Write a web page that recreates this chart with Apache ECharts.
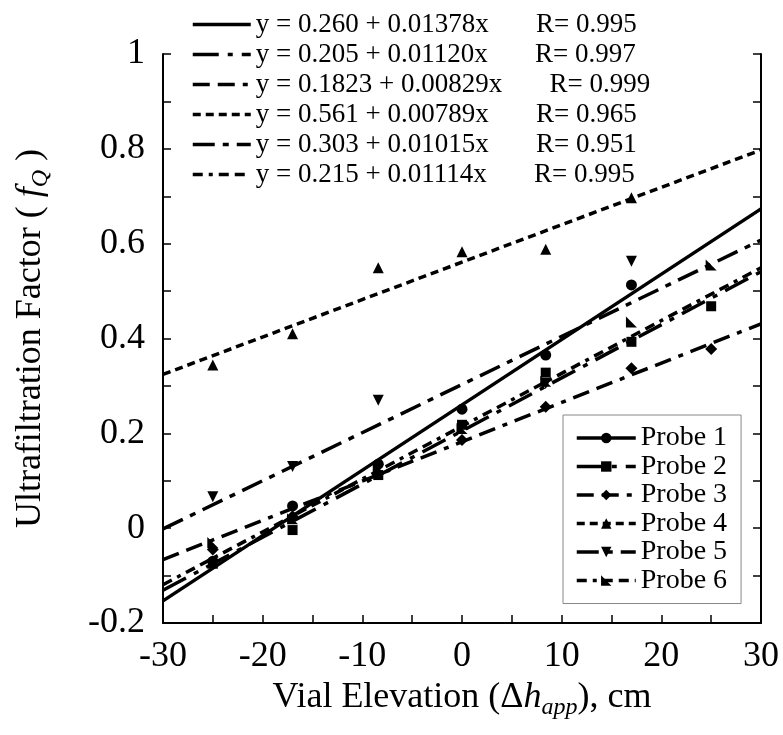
<!DOCTYPE html>
<html>
<head>
<meta charset="utf-8">
<script src="https://cdn.jsdelivr.net/npm/echarts@6/dist/echarts.min.js"></script>
<style>
  html, body { margin: 0; padding: 0; background: #fff; }
  #root { width: 783px; height: 735px; }
</style>
</head>
<body>
<div id="root"></div>
<script>
// measured points, vial elevation in cm
const xCm = [-25, -17, -8.4, 0, 8.4, 17, 25];
const probe1 = [-0.07, 0.047, 0.135, 0.251, 0.365, 0.513, null];
const probe2 = [-0.075, -0.004, 0.112, 0.218, 0.328, 0.393, 0.468];
const probe3 = [-0.045, 0.025, 0.115, 0.186, 0.256, 0.337, 0.378];
const probe4 = [0.344, 0.41, 0.549, 0.583, 0.588, 0.697, null];
const probe5 = [0.066, 0.13, 0.27, null, 0.305, 0.563, null];
const probe6 = [-0.03, 0.02, 0.125, 0.21, 0.31, 0.435, 0.555];

const probeNames = ['Probe 1', 'Probe 2', 'Probe 3', 'Probe 4', 'Probe 5', 'Probe 6'];

// fitted lines, as printed on the figure
const intercepts = ['0.260', '0.205', '0.1823', '0.561', '0.303', '0.215'];
const slopes = ['0.01378', '0.01120', '0.00829', '0.00789', '0.01015', '0.01114'];
const rValues = ['0.995', '0.997', '0.999', '0.965', '0.951', '0.995'];

const xRange = [-30, 30];

(function () {
  const FONT = 'Liberation Serif';
  const allPoints = [probe1, probe2, probe3, probe4, probe5, probe6];
  const dashes = [
    'solid',
    [26, 9, 5, 9],
    [17, 8, 17, 8, 5, 8],
    [8, 5],
    [22, 8, 6, 8],
    [10, 6, 4, 6, 10, 6]
  ];
  const symbols = [
    'circle',
    'rect',
    'diamond',
    'triangle',
    'path://M0,0 L10,0 L5,10 Z',
    'path://M0,0 L0,10 L10,10 Z'
  ];
  const symbolSizes = [11, 10, 12, 11, 11, 11];

  const eqNames = intercepts.map((a, i) => `y = ${a} + ${slopes[i]}x       R= ${rValues[i]}`);

  const series = [];
  probeNames.forEach((name, i) => {
    const a = parseFloat(intercepts[i]);
    const b = parseFloat(slopes[i]);
    // regression line
    series.push({
      name: name,
      type: 'line',
      data: xRange.map((x) => [x, a + b * x]),
      symbol: symbols[i],
      symbolSize: symbolSizes[i],
      showSymbol: false,
      lineStyle: { color: '#000', width: 3.5, type: dashes[i] },
      itemStyle: { color: '#000', opacity: 1 },
      silent: true,
      z: 2
    });
    // equation entry (legend only)
    series.push({
      name: eqNames[i],
      type: 'line',
      data: [],
      symbol: 'none',
      lineStyle: { color: '#000', width: 3.5, type: dashes[i] },
      itemStyle: { color: '#000' }
    });
    // measured points
    series.push({
      name: name + ' data',
      type: 'scatter',
      data: xCm.map((x, k) => [x, allPoints[i][k]]).filter((p) => p[1] !== null),
      symbol: symbols[i],
      symbolSize: symbolSizes[i],
      itemStyle: { color: '#000', opacity: 1 },
      silent: true,
      z: 3
    });
  });

  const tickLabel = { color: '#000', fontFamily: FONT, fontSize: 36 };
  const tickLine = { color: '#000', width: 1.5 };

  const option = {
    animation: false,
    backgroundColor: '#fff',
    grid: { left: 163, right: 22, top: 54, bottom: 112 },
    legend: [
      {
        data: eqNames,
        orient: 'vertical',
        left: 186,
        top: 6,
        itemWidth: 58,
        itemHeight: 12,
        itemGap: 3,
        selectedMode: false,
        itemStyle: { opacity: 0 },
        lineStyle: { width: 3.5 },
        textStyle: { color: '#000', fontFamily: FONT, fontSize: 27 }
      },
      {
        data: probeNames,
        orient: 'vertical',
        left: 563,
        top: 415,
        itemWidth: 59,
        itemHeight: 13,
        itemGap: 0.5,
        padding: [9, 14, 9, 12],
        borderColor: '#888',
        borderWidth: 1,
        selectedMode: false,
        backgroundColor: '#fff',
        itemStyle: { opacity: 1 },
        lineStyle: { width: 3.5 },
        textStyle: { color: '#000', fontFamily: FONT, fontSize: 28 }
      }
    ],
    xAxis: {
      type: 'value',
      min: -30,
      max: 30,
      interval: 10,
      splitLine: { show: false },
      axisLine: { onZero: false, lineStyle: { color: '#000', width: 2 } },
      axisTick: { inside: true, length: 8, lineStyle: tickLine },
      minorTick: { show: true, splitNumber: 2, length: 8, lineStyle: tickLine },
      axisLabel: Object.assign({ margin: 16 }, tickLabel),
      name: 'Vial Elevation (Δ{i|h}{sub|app}), cm',
      nameLocation: 'middle',
      nameGap: 52,
      nameTextStyle: {
        color: '#000', fontFamily: FONT, fontSize: 36,
        rich: {
          i: { fontFamily: FONT, fontSize: 36, fontStyle: 'italic', color: '#000' },
          sub: { fontFamily: FONT, fontSize: 24, fontStyle: 'italic', color: '#000', padding: [20, 0, 0, 0] }
        }
      }
    },
    yAxis: [
      {
        type: 'value',
        min: -0.2,
        max: 1,
        interval: 0.2,
        position: 'left',
        splitLine: { show: false },
        axisLine: { onZero: false, lineStyle: { color: '#000', width: 2 } },
        axisTick: { inside: true, length: 8, lineStyle: tickLine },
        minorTick: { show: true, splitNumber: 2, length: 8, lineStyle: tickLine },
        axisLabel: Object.assign({ margin: 18 }, tickLabel),
        name: 'Ultrafiltration Factor ( {i|f}{sub|Q} )',
        nameLocation: 'middle',
        nameGap: 110,
        nameTextStyle: {
          color: '#000', fontFamily: FONT, fontSize: 36,
          rich: {
            i: { fontFamily: FONT, fontSize: 36, fontStyle: 'italic', color: '#000' },
            sub: { fontFamily: FONT, fontSize: 24, fontStyle: 'italic', color: '#000', padding: [20, 0, 0, 0] }
          }
        }
      },
      {
        type: 'value',
        min: -0.2,
        max: 1,
        interval: 0.2,
        position: 'right',
        splitLine: { show: false },
        axisLine: { show: true, onZero: false, lineStyle: { color: '#000', width: 2 } },
        axisTick: { inside: true, length: 8, lineStyle: tickLine },
        minorTick: { show: true, splitNumber: 2, length: 8, lineStyle: tickLine },
        axisLabel: { show: false }
      }
    ],
    series: series
  };

  const chart = echarts.init(document.getElementById('root'));
  chart.setOption(option);
})();
</script>
</body>
</html>
